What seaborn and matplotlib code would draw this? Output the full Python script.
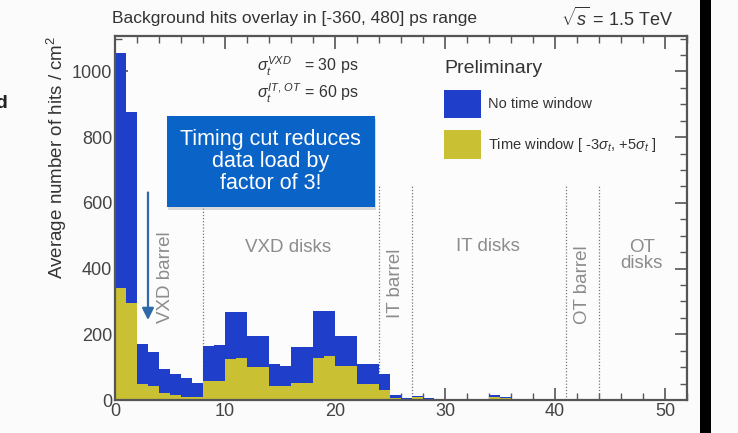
import numpy as np
import pandas as pd
import matplotlib
matplotlib.use("Agg")
import matplotlib.pyplot as plt
from matplotlib.patches import Rectangle, Patch
from matplotlib.ticker import MultipleLocator
import seaborn as sns

# ---------------- data ----------------
bin_edges = list(range(0, 53))  # 1 cm bins from 0 to 52
no_window = [1055, 875, 170, 145, 95, 80, 66, 53, 165, 168,
             267, 267, 196, 196, 109, 104, 160, 160, 272, 272,
             196, 196, 109, 109, 79, 16, 6, 13, 6, 2,
             1, 1, 1, 1, 15, 9, 3, 1, 1, 1,
             1, 4, 1, 1, 1, 1, 1, 1, 1, 1,
             1, 1]
time_window = [340, 295, 48, 43, 20, 15, 10, 10, 58, 58,
               124, 129, 99, 99, 43, 43, 53, 53, 129, 134,
               104, 104, 48, 48, 30, 6, 4, 8, 3, 2,
               1, 0.5, 0.5, 0.5, 9, 5, 2, 0.5, 0.5, 0.5,
               0.5, 1, 0.5, 0.5, 0.5, 0.5, 0.5, 0.5, 0.5, 0.5,
               0.5, 0.5]
region_bounds = [8, 24, 27, 41, 44]
region_labels = ["VXD barrel", "VXD disks", "IT barrel", "IT disks", "OT barrel", "OT\ndisks"]
series_labels = ["No time window", r"Time window [ -3$\sigma_t$, +5$\sigma_t$ ]"]
x_ticks = [0, 10, 20, 30, 40, 50]
y_ticks = [0, 200, 400, 600, 800, 1000]

centers = [e + 0.5 for e in bin_edges[:-1]]
df = pd.DataFrame({"r": centers * 2,
                   "hits": no_window + time_window,
                   "series": [series_labels[0]] * len(centers) + [series_labels[1]] * len(centers)})

BLUE = "#1f3fcb"
YELLOW = "#c9c033"
GRAY_TXT = "#8c8c8c"
FRAME = "#555555"

sns.set_style("ticks")
plt.rcParams["font.family"] = ["Liberation Sans", "DejaVu Sans"]
plt.rcParams["mathtext.fontset"] = "custom"
plt.rcParams["mathtext.rm"] = "Liberation Sans"
plt.rcParams["mathtext.it"] = "Liberation Sans:italic"

fig = plt.figure(figsize=(7.38, 4.33), dpi=100, facecolor="#fbfbfb")
ax = fig.add_axes([0.1558, 0.0762, 0.775, 0.8408])
ax.set_facecolor("#fcfcfc")

for lab, col in zip(series_labels, [BLUE, YELLOW]):
    sub = df[df["series"] == lab]
    sns.histplot(data=sub, x="r", weights="hits", bins=bin_edges, element="step",
                 fill=True, color=col, alpha=1.0, linewidth=0, ax=ax, zorder=2)

ax.set_xlim(0, 52)
ax.set_ylim(0, 1108)
ax.set_xlabel("")
ax.set_ylabel("Average number of hits / cm$^2$", fontsize=13.5, color="#333333", loc="top")
ax.yaxis.set_label_coords(-0.08, 1.0)
ax.set_xticks(x_ticks)
ax.set_yticks(y_ticks)
ax.xaxis.set_minor_locator(MultipleLocator(2))
ax.yaxis.set_minor_locator(MultipleLocator(50))
ax.tick_params(which="both", direction="in", top=True, right=True, colors=FRAME,
               labelcolor="#444444", labelsize=13, pad=2)
ax.tick_params(which="major", length=9, width=1.2)
ax.tick_params(which="minor", length=5, width=1.0)
for s in ax.spines.values():
    s.set_color(FRAME)
    s.set_linewidth(1.6)

# region separators
for b in region_bounds:
    ax.plot([b, b], [0, 650], ls=(0, (1, 1.5)), color="#777777", lw=0.9, zorder=1)

# region labels
LFS = 13.5
ax.text(4.6, 373, region_labels[0], rotation=90, ha="center", va="center", fontsize=LFS, color=GRAY_TXT)
ax.text(15.7, 465, region_labels[1], ha="center", va="center", fontsize=LFS, color=GRAY_TXT)
ax.text(25.5, 355, region_labels[2], rotation=90, ha="center", va="center", fontsize=LFS, color=GRAY_TXT)
ax.text(33.9, 466, region_labels[3], ha="center", va="center", fontsize=LFS, color=GRAY_TXT)
ax.text(42.5, 350, region_labels[4], rotation=90, ha="center", va="center", fontsize=LFS, color=GRAY_TXT)
ax.text(47.9, 440, region_labels[5], ha="center", va="center", fontsize=LFS, color=GRAY_TXT, linespacing=0.95)

# sigma annotation
ax.text(12.9, 1015, r"$\sigma_t^{VXD}$   = 30 ps", ha="left", va="center", fontsize=11.5, color="#333333")
ax.text(12.9, 933, r"$\sigma_t^{IT,\,OT}$ = 60 ps", ha="left", va="center", fontsize=11.5, color="#333333")

# arrow
ax.annotate("", xy=(3.0, 235), xytext=(3.0, 640),
            arrowprops=dict(arrowstyle="-|>,head_width=0.35,head_length=0.7",
                            color="#2d6aa6", lw=1.6), zorder=4)

# callout box
ax.add_patch(Rectangle((4.85, 578), 18.9, 276, facecolor="#9a9a9a", edgecolor="none",
                       alpha=0.35, zorder=5))
ax.add_patch(Rectangle((4.7, 587), 18.9, 276, facecolor="#0a63c7", edgecolor="none", zorder=6))
ax.text(14.15, 725, "Timing cut reduces\ndata load by\nfactor of 3!", ha="center", va="center",
        fontsize=15.5, color="white", zorder=7, linespacing=1.05)

# legend
handles = [Patch(facecolor=BLUE, edgecolor="none"), Patch(facecolor=YELLOW, edgecolor="none")]
leg = ax.legend(handles, series_labels, title="Preliminary", loc="upper left",
                bbox_to_anchor=(437 / 738, 1 - 53 / 433), bbox_transform=fig.transFigure,
                frameon=False, fontsize=10.5, title_fontsize=14, handlelength=2.55,
                handleheight=2.6, labelspacing=0.85, handletextpad=0.45, borderpad=0,
                alignment="left")
leg.get_title().set_color("#333333")
for t in leg.get_texts():
    t.set_color("#333333")

# header texts
fig.text(112 / 738, 1 - 18 / 433, "Background hits overlay in [-360, 480] ps range",
         ha="left", va="center", fontsize=12.5, color="#333333")
fig.text(673 / 738, 1 - 18 / 433, r"$\sqrt{s}$ = 1.5 TeV", ha="right", va="center",
         fontsize=13, color="#333333")

# slide artefacts: cropped letter and dark bar
fig.text(-0.006, 1 - 103 / 433, "d", ha="left", va="center", fontsize=14, fontweight="bold",
         color="#222222")
fig.patches.append(Rectangle((700 / 738, 0), 11 / 738, 1, transform=fig.transFigure,
                             facecolor="black", edgecolor="none", zorder=10))

fig.savefig("out.png", dpi=100, facecolor=fig.get_facecolor())
